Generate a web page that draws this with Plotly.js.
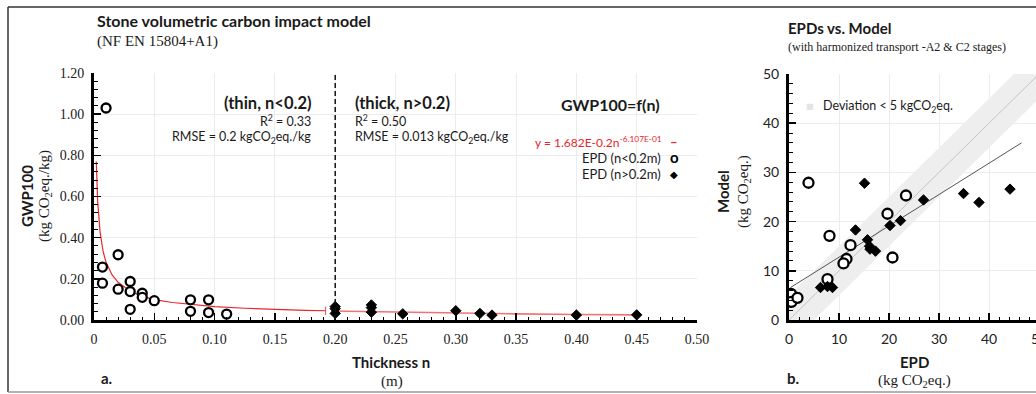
<!DOCTYPE html>
<html>
<head>
<meta charset="utf-8">
<script src="https://cdn.plot.ly/plotly-3.0.1.min.js"></script>
<style>
html,body{margin:0;padding:0;background:#fff;overflow:hidden;width:1036px;height:394px;}
#chart{width:1046px;height:394px;}
</style>
</head>
<body>
<div id="chart"></div>
<script>
// ---------- DATA (panel a) ----------
const thinN   = [0.01, 0.007, 0.007, 0.02, 0.02, 0.03, 0.03, 0.03, 0.04, 0.04, 0.05, 0.08, 0.08, 0.095, 0.095, 0.11];
const thinGWP = [1.03, 0.257, 0.179, 0.317, 0.15, 0.187, 0.138, 0.052, 0.13, 0.11, 0.094, 0.098, 0.042, 0.098, 0.036, 0.029];
const thickN   = [0.2, 0.2, 0.2, 0.23, 0.23, 0.23, 0.256, 0.30, 0.32, 0.33, 0.40, 0.45];
const thickGWP = [0.065, 0.055, 0.032, 0.073, 0.060, 0.038, 0.030, 0.045, 0.032, 0.024, 0.024, 0.025];
// fitted power law
const thinFitN = [0.0019, 0.003, 0.005, 0.0075, 0.01, 0.015, 0.02, 0.03, 0.04, 0.05, 0.065, 0.08, 0.10, 0.125, 0.15, 0.175, 0.192];
const thinFitY = [0.77, 0.58, 0.43, 0.334, 0.28, 0.219, 0.183, 0.140, 0.115, 0.099, 0.085, 0.075, 0.065, 0.057, 0.051, 0.047, 0.045];
const thickFitN = [0.197, 0.25, 0.30, 0.35, 0.40, 0.45];
const thickFitY = [0.044, 0.038, 0.034, 0.030, 0.027, 0.025];
const splitN = 0.2;
const xTickVals = [0, 0.05, 0.10, 0.15, 0.20, 0.25, 0.30, 0.35, 0.40, 0.45, 0.50];
const xTickText = ['0', '0.05', '0.10', '0.15', '0.20', '0.25', '0.30', '0.35', '0.40', '0.45', '0.50'];

// ---------- DATA (panel b) ----------
const epdThin   = [3.9, 8.1, 12.3, 11.5, 10.9, 7.7, 0.4, 0.5, 1.7, 19.7, 23.4, 20.7];
const modelThin = [27.9, 17.1, 15.2, 12.4, 11.5, 8.3, 5.3, 3.7, 4.5, 21.6, 25.3, 12.7];
const epdThick   = [15.1, 13.3, 15.7, 16.1, 16.2, 17.3, 20.2, 22.3, 26.9, 34.9, 38.0, 44.2, 6.3, 7.7, 8.7];
const modelThick = [27.8, 18.3, 16.3, 15.0, 14.4, 14.0, 19.2, 20.2, 24.4, 25.7, 23.9, 26.6, 6.6, 6.8, 6.6];
const bandX = [0, 0, 55, 55];
const bandY = [-5, 5, 60, 50];
const identX = [0, 50];
const identY = [0, 50];
const regX = [0.3, 46.5];
const regY = [6.6, 36.0];

// ---------- LAYOUT HELPERS ----------
const W = 1046, H = 394;
const px = x => x / W;
const py = y => 1 - y / H;
const SANS = 'Lato, "Noto Sans", sans-serif';
const SERIF = '"Liberation Serif", "DejaVu Serif", serif';
const RED = '#e8262b';

function ann(text, x, y, o) {
  o = o || {};
  return {
    text: text, x: px(x), y: py(y), xref: 'paper', yref: 'paper', showarrow: false,
    xanchor: o.xa || 'left', yanchor: o.ya || 'middle', textangle: o.rot || 0,
    font: {family: o.family || SANS, size: o.size || 13, color: o.color || '#1a1a1a'}
  };
}

const sizesThin = thinFitN.map((v, i) => i === thinFitN.length - 1 ? 6 : 0);
const sizesThick = thickFitN.map((v, i) => i === 0 ? 6 : 0);

const traces = [
  {x: thinFitN, y: thinFitY, xaxis: 'x', yaxis: 'y', mode: 'lines+markers', line: {color: RED, width: 1.2},
   marker: {symbol: 'line-ns-open', size: sizesThin, color: RED, line: {color: RED, width: 1.2}}, hoverinfo: 'skip'},
  {x: thickFitN, y: thickFitY, xaxis: 'x', yaxis: 'y', mode: 'lines+markers', line: {color: '#f07373', width: 1.6},
   marker: {symbol: 'line-ns-open', size: sizesThick, color: '#f07373', line: {color: '#f07373', width: 1.2}}, hoverinfo: 'skip'},
  {x: thinN, y: thinGWP, xaxis: 'x', yaxis: 'y', mode: 'markers',
   marker: {symbol: 'circle', size: 9, color: '#fff', line: {color: '#000', width: 2.3}}},
  {x: thickN, y: thickGWP, xaxis: 'x', yaxis: 'y', mode: 'markers',
   marker: {symbol: 'diamond', size: 8, color: '#000', line: {color: '#000', width: 1}}},

  {x: bandX, y: bandY, xaxis: 'x2', yaxis: 'y2', mode: 'lines', fill: 'toself', fillcolor: '#eeeeee',
   line: {width: 0, color: 'rgba(0,0,0,0)'}, hoverinfo: 'skip'},
  {x: identX, y: identY, xaxis: 'x2', yaxis: 'y2', mode: 'lines', line: {color: '#c4c4c4', width: 1}, hoverinfo: 'skip'},
  {x: regX, y: regY, xaxis: 'x2', yaxis: 'y2', mode: 'lines', line: {color: '#555', width: 1}, hoverinfo: 'skip'},
  {x: epdThin, y: modelThin, xaxis: 'x2', yaxis: 'y2', mode: 'markers',
   marker: {symbol: 'circle', size: 10, color: '#fff', line: {color: '#000', width: 2.3}}},
  {x: epdThick, y: modelThick, xaxis: 'x2', yaxis: 'y2', mode: 'markers',
   marker: {symbol: 'diamond', size: 8, color: '#000', line: {color: '#000', width: 1}}}
];

const tickCommon = {
  showline: true, linewidth: 3, linecolor: '#000', ticks: 'inside', ticklen: 7, tickwidth: 1.5, tickcolor: '#000',
  zeroline: false, fixedrange: true, ticklabeloverflow: 'allow'
};
const mirrorCommon = Object.assign({}, tickCommon, {showticklabels: false, showgrid: false});

const layout = {
  width: W, height: H, margin: {l: 0, r: 0, t: 0, b: 0}, showlegend: false,
  paper_bgcolor: '#fff', plot_bgcolor: 'rgba(0,0,0,0)', font: {family: SANS, color: '#1a1a1a'},
  xaxis: Object.assign({}, tickCommon, {
    domain: [px(94), px(697)], range: [0, 0.5], anchor: 'y',
    tickmode: 'array', tickvals: xTickVals, ticktext: xTickText,
    tickfont: {family: SERIF, size: 14, color: '#222'}, ticklabelstandoff: 4,
    showgrid: true, gridcolor: '#ececec', gridwidth: 1,
    minor: {tickmode: 'linear', tick0: 0, dtick: 0.01, ticks: 'inside', ticklen: 3.5, tickwidth: 1, tickcolor: '#000', showgrid: false}
  }),
  yaxis: Object.assign({}, tickCommon, {
    domain: [py(320), py(73)], range: [0, 1.2], anchor: 'x', dtick: 0.2, tickformat: '.2f',
    tickfont: {family: SERIF, size: 14, color: '#222'}, ticklabelstandoff: 4,
    showgrid: true, gridcolor: '#ececec', gridwidth: 1,
    minor: {tickmode: 'linear', tick0: 0, dtick: 0.04, ticks: 'inside', ticklen: 3.5, tickwidth: 1, tickcolor: '#000', showgrid: false}
  }),
  xaxis3: Object.assign({}, mirrorCommon, {overlaying: 'x', side: 'top', anchor: 'y', range: [0, 0.5], tickmode: 'array', tickvals: xTickVals}),
  yaxis3: Object.assign({}, mirrorCommon, {overlaying: 'y', side: 'right', anchor: 'x', range: [0, 1.2], dtick: 0.2}),

  xaxis2: Object.assign({}, tickCommon, {
    domain: [px(789), px(1039)], range: [0, 50], anchor: 'y2', dtick: 10,
    tickfont: {family: SANS, size: 14, color: '#222'}, ticklabelstandoff: 4,
    showgrid: true, gridcolor: '#ececec', gridwidth: 1,
    minor: {tickmode: 'linear', tick0: 0, dtick: 2, ticks: 'inside', ticklen: 3.5, tickwidth: 1, tickcolor: '#000', showgrid: false}
  }),
  yaxis2: Object.assign({}, tickCommon, {
    domain: [py(320), py(74)], range: [0, 50], anchor: 'x2', dtick: 10,
    tickfont: {family: SANS, size: 14, color: '#222'}, ticklabelstandoff: 4,
    showgrid: true, gridcolor: '#ececec', gridwidth: 1,
    minor: {tickmode: 'linear', tick0: 0, dtick: 2, ticks: 'inside', ticklen: 3.5, tickwidth: 1, tickcolor: '#000', showgrid: false}
  }),
  xaxis4: Object.assign({}, mirrorCommon, {overlaying: 'x2', side: 'top', anchor: 'y2', range: [0, 50], dtick: 10}),
  yaxis4: Object.assign({}, mirrorCommon, {overlaying: 'y2', side: 'right', anchor: 'x2', range: [0, 50], dtick: 10}),

  shapes: [
    {type: 'line', xref: 'x', yref: 'y domain', x0: splitN, x1: splitN, y0: 0, y1: 1, line: {color: '#111', width: 1.5, dash: '5px,3px'}},
    {type: 'line', xref: 'paper', yref: 'paper', x0: px(8), x1: px(1046), y0: py(7), y1: py(7), line: {color: '#333', width: 1.5}},
    {type: 'line', xref: 'paper', yref: 'paper', x0: px(8), x1: px(8), y0: py(7), y1: py(392), line: {color: '#333', width: 1.5}},
    {type: 'line', xref: 'paper', yref: 'paper', x0: px(8), x1: px(1046), y0: py(392), y1: py(392), line: {color: '#999', width: 1.5}}
  ],

  annotations: [
    ann('<b>Stone volumetric carbon impact model</b>', 95, 21, {size: 16}),
    ann('(NF EN 15804+A1)', 95, 42, {family: SERIF, size: 15}),
    ann('<b>GWP100</b>', 27, 196, {xa: 'center', rot: -90, size: 15}),
    ann('(kg CO<sub>2</sub>eq./kg)', 45, 196, {xa: 'center', rot: -90, family: SERIF, size: 15}),
    ann('<b>Thickness n</b>', 391, 362, {xa: 'center', size: 15}),
    ann('(m)', 392, 381, {xa: 'center', family: SERIF, size: 15}),
    ann('<b>a.</b>', 99, 378, {size: 15}),
    ann('<b>(thin, n&lt;0.2)</b>', 313, 103, {xa: 'right', size: 16.5}),
    ann('R<sup>2</sup> = 0.33', 313, 121, {xa: 'right', size: 12.5}),
    ann('RMSE = 0.2 kgCO<sub>2</sub>eq./kg', 313, 137, {xa: 'right', size: 12.5}),
    ann('<b>(thick, n&gt;0.2)</b>', 353, 103, {size: 16.5}),
    ann('R<sup>2</sup> = 0.50', 353, 121, {size: 12.5}),
    ann('RMSE = 0.013 kgCO<sub>2</sub>eq./kg', 353, 137, {size: 12.5}),
    ann('<b>GWP100=f(n)</b>', 662, 104, {xa: 'right', size: 16}),
    ann('y = 1.682E-0.2n<sup>-6.107E-01</sup>', 664, 142, {xa: 'right', size: 12, color: RED}),
    ann('<b>–</b>', 674, 142, {xa: 'center', size: 13, color: RED}),
    ann('EPD (n&lt;0.2m)', 663, 158, {xa: 'right', size: 13}),
    ann('<b>o</b>', 674, 157, {xa: 'center', size: 15, color: '#000'}),
    ann('EPD (n&gt;0.2m)', 663, 174, {xa: 'right', size: 13}),
    ann('◆', 674, 174, {xa: 'center', size: 10, color: '#000', family: '"DejaVu Sans", sans-serif'}),

    ann('<b>EPDs vs. Model</b>', 786, 28, {size: 15}),
    ann('(with harmonized transport -A2 &amp; C2 stages)', 786, 47, {family: SERIF, size: 12}),
    ann('<b>Model</b>', 723, 192, {xa: 'center', rot: -90, size: 15}),
    ann('(kg CO<sub>2</sub>eq.)', 744, 192, {xa: 'center', rot: -90, family: SERIF, size: 15}),
    ann('<b>EPD</b>', 914, 362, {xa: 'center', size: 15}),
    ann('(kg CO<sub>2</sub>eq.)', 914, 381, {xa: 'center', family: SERIF, size: 15}),
    ann('<b>b.</b>', 785, 378, {size: 15}),
    ann('■', 810, 106, {xa: 'center', size: 8, color: '#e4e4e4', family: '"DejaVu Sans", sans-serif'}),
    ann('Deviation &lt; 5 kgCO<sub>2</sub>eq.', 821, 106, {size: 12.5})
  ]
};

Plotly.newPlot('chart', traces, layout, {staticPlot: true, displayModeBar: false});
</script>
</body>
</html>
